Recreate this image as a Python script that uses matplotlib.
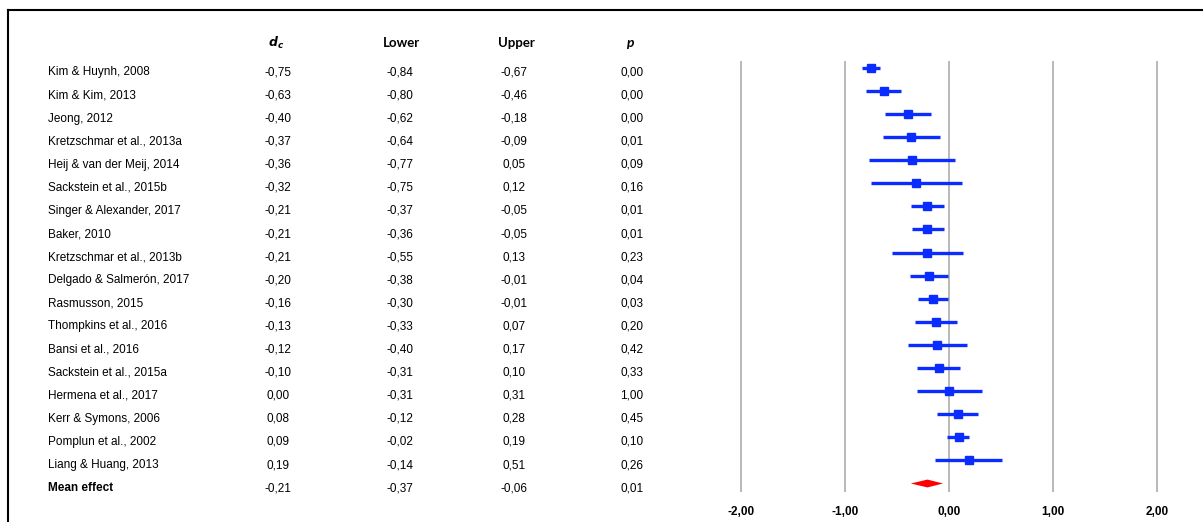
import matplotlib.pyplot as plt
from matplotlib.lines import Line2D
from matplotlib.patches import Polygon

# study rows, top to bottom
studies = ["Kim & Huynh, 2008", "Kim & Kim, 2013", "Jeong, 2012",
           "Kretzschmar et al., 2013a", "Heij & van der Meij, 2014",
           "Sackstein et al., 2015b", "Singer & Alexander, 2017", "Baker, 2010",
           "Kretzschmar et al., 2013b", "Delgado & Salmerón, 2017",
           "Rasmusson, 2015", "Thompkins et al., 2016", "Bansi et al., 2016",
           "Sackstein et al., 2015a", "Hermena et al., 2017",
           "Kerr & Symons, 2006", "Pomplun et al., 2002", "Liang & Huang, 2013"]
dc = [-0.75, -0.63, -0.40, -0.37, -0.36, -0.32, -0.21, -0.21, -0.21, -0.20,
      -0.16, -0.13, -0.12, -0.10, 0.00, 0.08, 0.09, 0.19]
lower = [-0.84, -0.80, -0.62, -0.64, -0.77, -0.75, -0.37, -0.36, -0.55, -0.38,
         -0.30, -0.33, -0.40, -0.31, -0.31, -0.12, -0.02, -0.14]
upper = [-0.67, -0.46, -0.18, -0.09, 0.05, 0.12, -0.05, -0.05, 0.13, -0.01,
         -0.01, 0.07, 0.17, 0.10, 0.31, 0.28, 0.19, 0.51]
pvals = [0.00, 0.00, 0.00, 0.01, 0.09, 0.16, 0.01, 0.01, 0.23, 0.04,
         0.03, 0.20, 0.42, 0.33, 1.00, 0.45, 0.10, 0.26]

mean_label = "Mean effect"
mean_dc, mean_lower, mean_upper, mean_p = -0.21, -0.37, -0.06, 0.01

xticks = [-2, -1, 0, 1, 2]

W, H = 1203, 522
fig = plt.figure(figsize=(W / 100, H / 100), dpi=100)

# pixel layout
top_px, bot_px = 61, 492
row0_px, step_px = 67.7, 23.1
ylim = ((bot_px - row0_px) / step_px, -(row0_px - top_px) / step_px)
pos_b = (H - bot_px) / H
pos_h = (bot_px - top_px) / H

zero_px, unit_px = 949.3, 104.0
xl, xr = -2.2, 2.2
ax = fig.add_axes([(zero_px + xl * unit_px) / W, pos_b,
                   (xr - xl) * unit_px / W, pos_h])
ax.set_xlim(xl, xr)
ax.set_ylim(*ylim)
for s in ax.spines.values():
    s.set_visible(False)
ax.set_yticks([])
ax.set_xticks(xticks)
ax.set_xticklabels([f"{t:.2f}".replace(".", ",") for t in xticks],
                   fontfamily="Liberation Sans", fontweight="bold", fontsize=8.5)
ax.tick_params(axis="x", length=0, pad=10)
for t in xticks:
    ax.axvline(t, color="#a6a6a6", lw=1.1, zorder=0)

blue = "#0a2cff"
n = len(studies)
for i in range(n):
    ax.plot([lower[i], upper[i]], [i, i], color=blue, lw=2.4, solid_capstyle="butt", zorder=2)
    ax.plot(dc[i], i, marker="s", ms=5.5, color=blue, zorder=3)

dh = 0.17
ax.add_patch(Polygon([[mean_lower, n], [mean_dc, n - dh], [mean_upper, n], [mean_dc, n + dh]],
                     closed=True, color="#ff0000", lw=0, zorder=3))

# table on the left
tab = fig.add_axes([0, pos_b, 700 / W, pos_h])
tab.set_xlim(0, 700)
tab.set_ylim(ylim[0] - 0.2, ylim[1] - 0.2)
tab.axis("off")

def fmt(v):
    return f"{v:.2f}".replace(".", ",")

num_kw = dict(fontfamily="Liberation Sans", fontsize=8.5, ha="center", va="center")
cols = [(278, dc), (400, lower), (514, upper), (632, pvals)]
for i in range(n):
    tab.text(48, i, studies[i], fontfamily="Liberation Sans", fontsize=8.5, va="center")
    for x, vals in cols:
        tab.text(x, i, fmt(vals[i]), **num_kw)
tab.text(48, n, mean_label, fontfamily="Liberation Sans", fontsize=8.5,
         fontweight="bold", va="center")
for x, v in zip([c[0] for c in cols], [mean_dc, mean_lower, mean_upper, mean_p]):
    tab.text(x, n, fmt(v), **num_kw)

hy = -1.29
tab.text(276, hy, r"$\mathbfit{d}_{\mathbfit{c}}$", fontsize=9, ha="center", va="center")
tab.text(401, hy, "Lower", fontfamily="Lato", fontweight="bold", fontsize=9.5, ha="center", va="center")
tab.text(516, hy, "Upper", fontfamily="Lato", fontweight="bold", fontsize=9.5, ha="center", va="center")
tab.text(630, hy, "p", fontfamily="Lato", fontweight="bold", style="italic", fontsize=10,
         ha="center", va="center")

# frame lines (top and left)
fig.add_artist(Line2D([8 / W, 1], [1 - 10 / H, 1 - 10 / H], color="black", lw=1.5,
                      transform=fig.transFigure))
fig.add_artist(Line2D([8 / W, 8 / W], [0, 1 - 10 / H], color="black", lw=1.5,
                      transform=fig.transFigure))

fig.savefig("out.png", dpi=100)
